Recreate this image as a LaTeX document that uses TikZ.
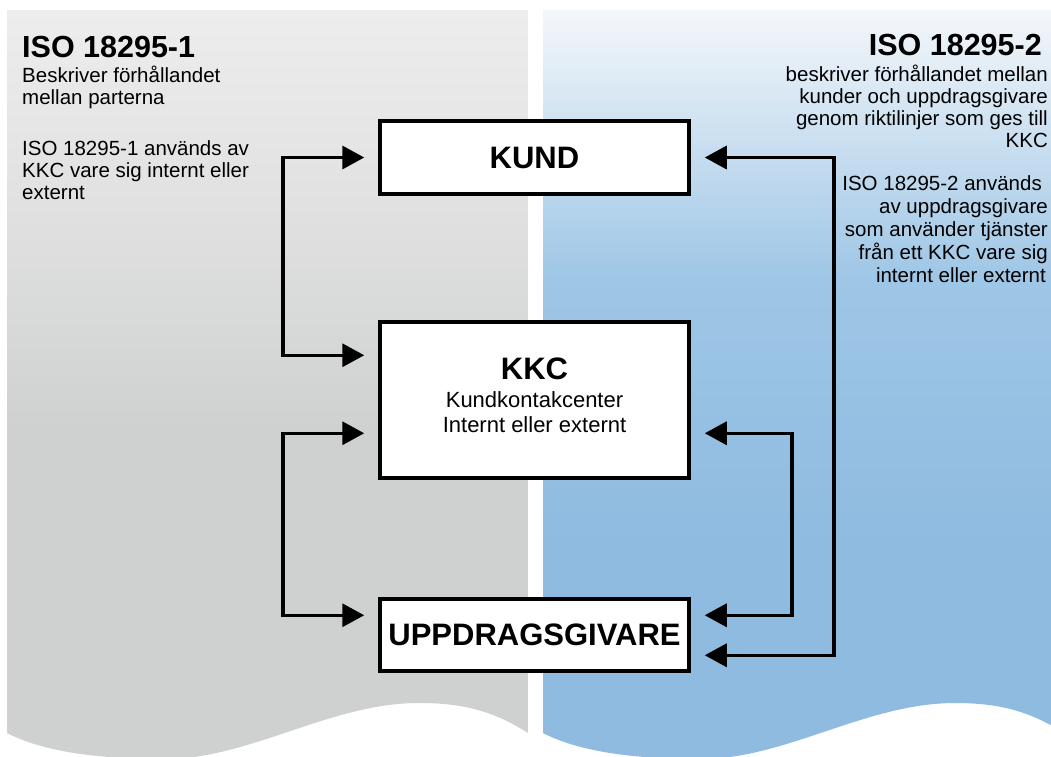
\documentclass[tikz,border=0pt]{standalone}
\usepackage{fontspec}
\setmainfont{Liberation Sans}
\usetikzlibrary{arrows.meta, positioning, calc}
\definecolor{isogrey}{RGB}{207,209,209}
\definecolor{isogreymid}{RGB}{225,225,225}
\definecolor{isogreytop}{RGB}{237,237,237}
\definecolor{isoblue}{RGB}{143,187,224}
\definecolor{isobluemid}{RGB}{158,198,230}
\definecolor{isobluetop}{RGB}{244,247,250}
\pgfdeclareverticalshading{greypanel}{100bp}{color(0bp)=(isogrey); color(25bp)=(isogrey); color(47bp)=(isogrey); color(62bp)=(isogreymid); color(75bp)=(isogreytop); color(100bp)=(isogreytop)}
\pgfdeclareverticalshading{bluepanel}{100bp}{color(0bp)=(isoblue); color(25bp)=(isoblue); color(39bp)=(isoblue); color(57bp)=(isobluemid); color(75bp)=(isobluetop); color(100bp)=(isobluetop)}
\newcommand{\kkcsub}{\fontsize{22}{25}\selectfont\mdseries}

\begin{document}
\begin{tikzpicture}[
    x=1pt, y=-1pt,
    box/.style={draw, line width=3.5pt, fill=white, minimum width=309pt,
                inner sep=0pt, align=center, font=\fontsize{31}{25}\selectfont\bfseries},
    headline/.style={inner sep=0pt, font=\fontsize{30.5}{32}\selectfont\bfseries},
    body/.style={inner sep=0pt, font=\fontsize{20.5}{21.5}\selectfont},
    arr/.style={{Triangle[length=22pt,width=23pt]}-{Triangle[length=22pt,width=23pt]},
                line width=3.5pt, shorten <=14pt, shorten >=14pt}
]
    \useasboundingbox (0,0) rectangle (1051,756);

    % background panels with wavy bottom
    \begin{scope}
        \clip (0,0) rectangle (1051,756);
        \shade[shading=greypanel] (7,10) -- (528,10) -- (528,733)
            .. controls (495,712) and (465,703) .. (419,703)
            .. controls (330,703) and (250,759) .. (165,759)
            .. controls (90,759) and (40,750) .. (7,733) -- cycle;
        \begin{scope}[xshift=536pt]
            \shade[shading=bluepanel] (7,10) -- (528,10) -- (528,733)
                .. controls (495,712) and (465,703) .. (419,703)
                .. controls (330,703) and (250,759) .. (165,759)
                .. controls (90,759) and (40,750) .. (7,733) -- cycle;
        \end{scope}
    \end{scope}

    % texts (base = last line)
    \node[headline, anchor=base west] (iso1) at (22,57) {ISO 18295-1};
    \node[body, anchor=base west, align=left] (iso1a) at (22,104) {Beskriver förhållandet\\mellan parterna};
    \node[body, anchor=base west, align=left, font=\fontsize{20.5}{22}\selectfont] (iso1b) at (22,199) {ISO 18295-1 används av\\KKC vare sig internt eller\\externt};

    \node[headline, anchor=base east] (iso2) at (1042,55) {ISO 18295-2};
    \node[body, anchor=base east, align=right, font=\fontsize{20.5}{22}\selectfont] (iso2a) at (1048,147) {beskriver förhållandet mellan\\kunder och uppdragsgivare\\genom riktilinjer som ges till\\KKC};
    \node[body, anchor=base east, align=right, font=\fontsize{20.5}{23}\selectfont] (iso2b) at (1048,282)
        {ISO 18295-2 används\hspace*{6pt}\\av uppdragsgivare\\som använder tjänster\\från ett KKC vare sig\hspace*{6pt}\\internt eller externt\hspace*{2pt}};

    % boxes
    \node[box, minimum height=73pt] (kund) at (534.5,157.5) {KUND};
    \node[box, minimum height=156pt] (kkc) at (534.5,400)
        {KKC\\[3pt]\kkcsub Kundkontakcenter\\\kkcsub Internt eller externt\rule[-10pt]{0pt}{10pt}};
    \node[box, minimum height=72pt] (upp) at (534.5,635) {UPPDRAGSGIVARE};

    \coordinate (lx) at (283,0);
    \coordinate (rx) at (792,0);
    \coordinate (ox) at (834,0);

    \draw[arr] (kund.west) -- (kund.west -| lx) |- ([yshift=-35pt]kkc.north west);
    \draw[arr] ([yshift=-113pt]kkc.north west) -| (lx |- upp.north west) |- ([yshift=-18pt]upp.north west);
    \draw[arr] ([yshift=-113pt]kkc.north east) -| (rx |- upp.north east) |- ([yshift=-18pt]upp.north east);
    \draw[arr] (kund.east) -- (kund.east -| ox) |- ([yshift=-58pt]upp.north east);
\end{tikzpicture}
\end{document}
